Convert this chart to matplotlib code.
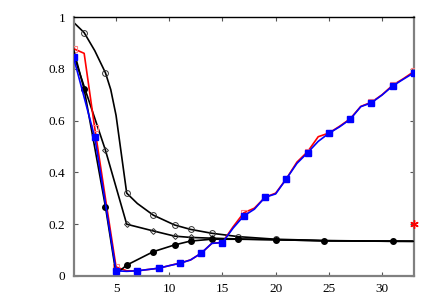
import matplotlib
matplotlib.use("Agg")
import matplotlib.pyplot as plt
from matplotlib.ticker import FuncFormatter

plt.rcParams['font.family'] = ['Liberation Serif', 'DejaVu Serif']

# open-circle black series
oc_x = [1, 2, 3, 4, 4.5, 5, 5.5, 6, 7, 8.5, 10.5, 12, 14, 16.5, 20, 24.5, 31, 33]
oc_y = [0.98, 0.94, 0.87, 0.785, 0.72, 0.62, 0.47, 0.32, 0.28, 0.235, 0.197, 0.18, 0.165, 0.152, 0.142, 0.137, 0.134, 0.134]
oc_marks = [1, 3, 7, 9, 10, 11, 12, 13, 14]

# open-diamond black series
dm_x = [1, 4, 6, 8.5, 10.5, 12, 14, 16.5, 20, 24.5, 31, 33]
dm_y = [0.855, 0.486, 0.2, 0.174, 0.154, 0.149, 0.146, 0.143, 0.14, 0.136, 0.134, 0.134]
dm_marks = [1, 2, 3, 4, 5, 6, 7]

# filled-circle black series
fc_x = [1, 2, 3, 4, 5, 6, 8.5, 10.5, 12, 14, 16.5, 20, 24.5, 31, 33]
fc_y = [0.875, 0.721, 0.495, 0.268, 0.008, 0.042, 0.094, 0.12, 0.135, 0.142, 0.142, 0.14, 0.136, 0.135, 0.134]
fc_marks = [1, 3, 5, 6, 7, 8, 9, 10, 11, 12, 13]

# red and blue series on integer grid
grid_x = list(range(1, 34))
red_y = [0.878, 0.86, 0.57, 0.30, 0.035, 0.02, 0.02, 0.025, 0.03, 0.04, 0.05, 0.062, 0.088,
         0.126, 0.13, 0.19, 0.244, 0.262, 0.304, 0.32, 0.375, 0.44, 0.48, 0.538, 0.552,
         0.578, 0.607, 0.655, 0.671, 0.70, 0.737, 0.762, 0.79]
blue_y = [0.845, 0.69, 0.535, 0.28, 0.02, 0.018, 0.02, 0.025, 0.03, 0.04, 0.049, 0.062, 0.088,
          0.126, 0.129, 0.185, 0.232, 0.258, 0.304, 0.317, 0.375, 0.435, 0.476, 0.52, 0.551,
          0.576, 0.605, 0.654, 0.669, 0.699, 0.734, 0.76, 0.785]

# single red asterisk point
star_x = [33]
star_y = [0.2]

x_ticks = [5, 10, 15, 20, 25, 30]
y_ticks = [0, 0.2, 0.4, 0.6, 0.8, 1]

fig = plt.figure(figsize=(4.36, 3.05), dpi=100)
ax = fig.add_axes([0.1686, 0.0951, 0.9495 - 0.1686, 0.944 - 0.0951])

lw = 1.2
ax.plot(oc_x, oc_y, color='black', lw=lw, marker='o', markevery=oc_marks,
        markersize=4.2, markerfacecolor='none', markeredgecolor='#333333', markeredgewidth=0.7, zorder=2)
ax.plot(dm_x, dm_y, color='black', lw=lw, marker='D', markevery=dm_marks,
        markersize=3.0, markerfacecolor='none', markeredgecolor='#333333', markeredgewidth=0.7, zorder=2)
ax.plot(grid_x, red_y, color='red', lw=lw, marker='s', markevery=2,
        markersize=4.4, markerfacecolor='none', markeredgecolor='#ff8080', markeredgewidth=0.8, zorder=3)
ax.plot(grid_x, blue_y, color='blue', lw=lw, marker='s', markevery=2,
        markersize=3.8, markerfacecolor='blue', markeredgecolor='blue', zorder=4)
ax.plot(fc_x, fc_y, color='black', lw=lw, marker='o', markevery=fc_marks,
        markersize=4.0, markerfacecolor='black', markeredgecolor='black', zorder=3.5)
ax.plot(star_x, star_y, linestyle='none', marker=(6, 2, 0), markersize=6,
        color='red', markeredgewidth=1.0, zorder=6, clip_on=False)

ax.set_xlim(1, 33)
ax.set_ylim(0, 1)
ax.set_xticks(x_ticks)
ax.set_yticks(y_ticks)
ax.yaxis.set_major_formatter(FuncFormatter(lambda v, p: ('%g' % v)))

ax.tick_params(axis='both', direction='in', length=3, width=0.8, labelsize=9.5,
               top=True, right=True, color='#555555')
ax.tick_params(axis='x', pad=5)
ax.tick_params(axis='y', pad=6)

for side in ['left', 'right', 'bottom']:
    ax.spines[side].set_color('#808080')
    ax.spines[side].set_linewidth(1.6)
ax.spines['top'].set_color('black')
ax.spines['top'].set_linewidth(1.0)

fig.savefig('out.png', dpi=100)
